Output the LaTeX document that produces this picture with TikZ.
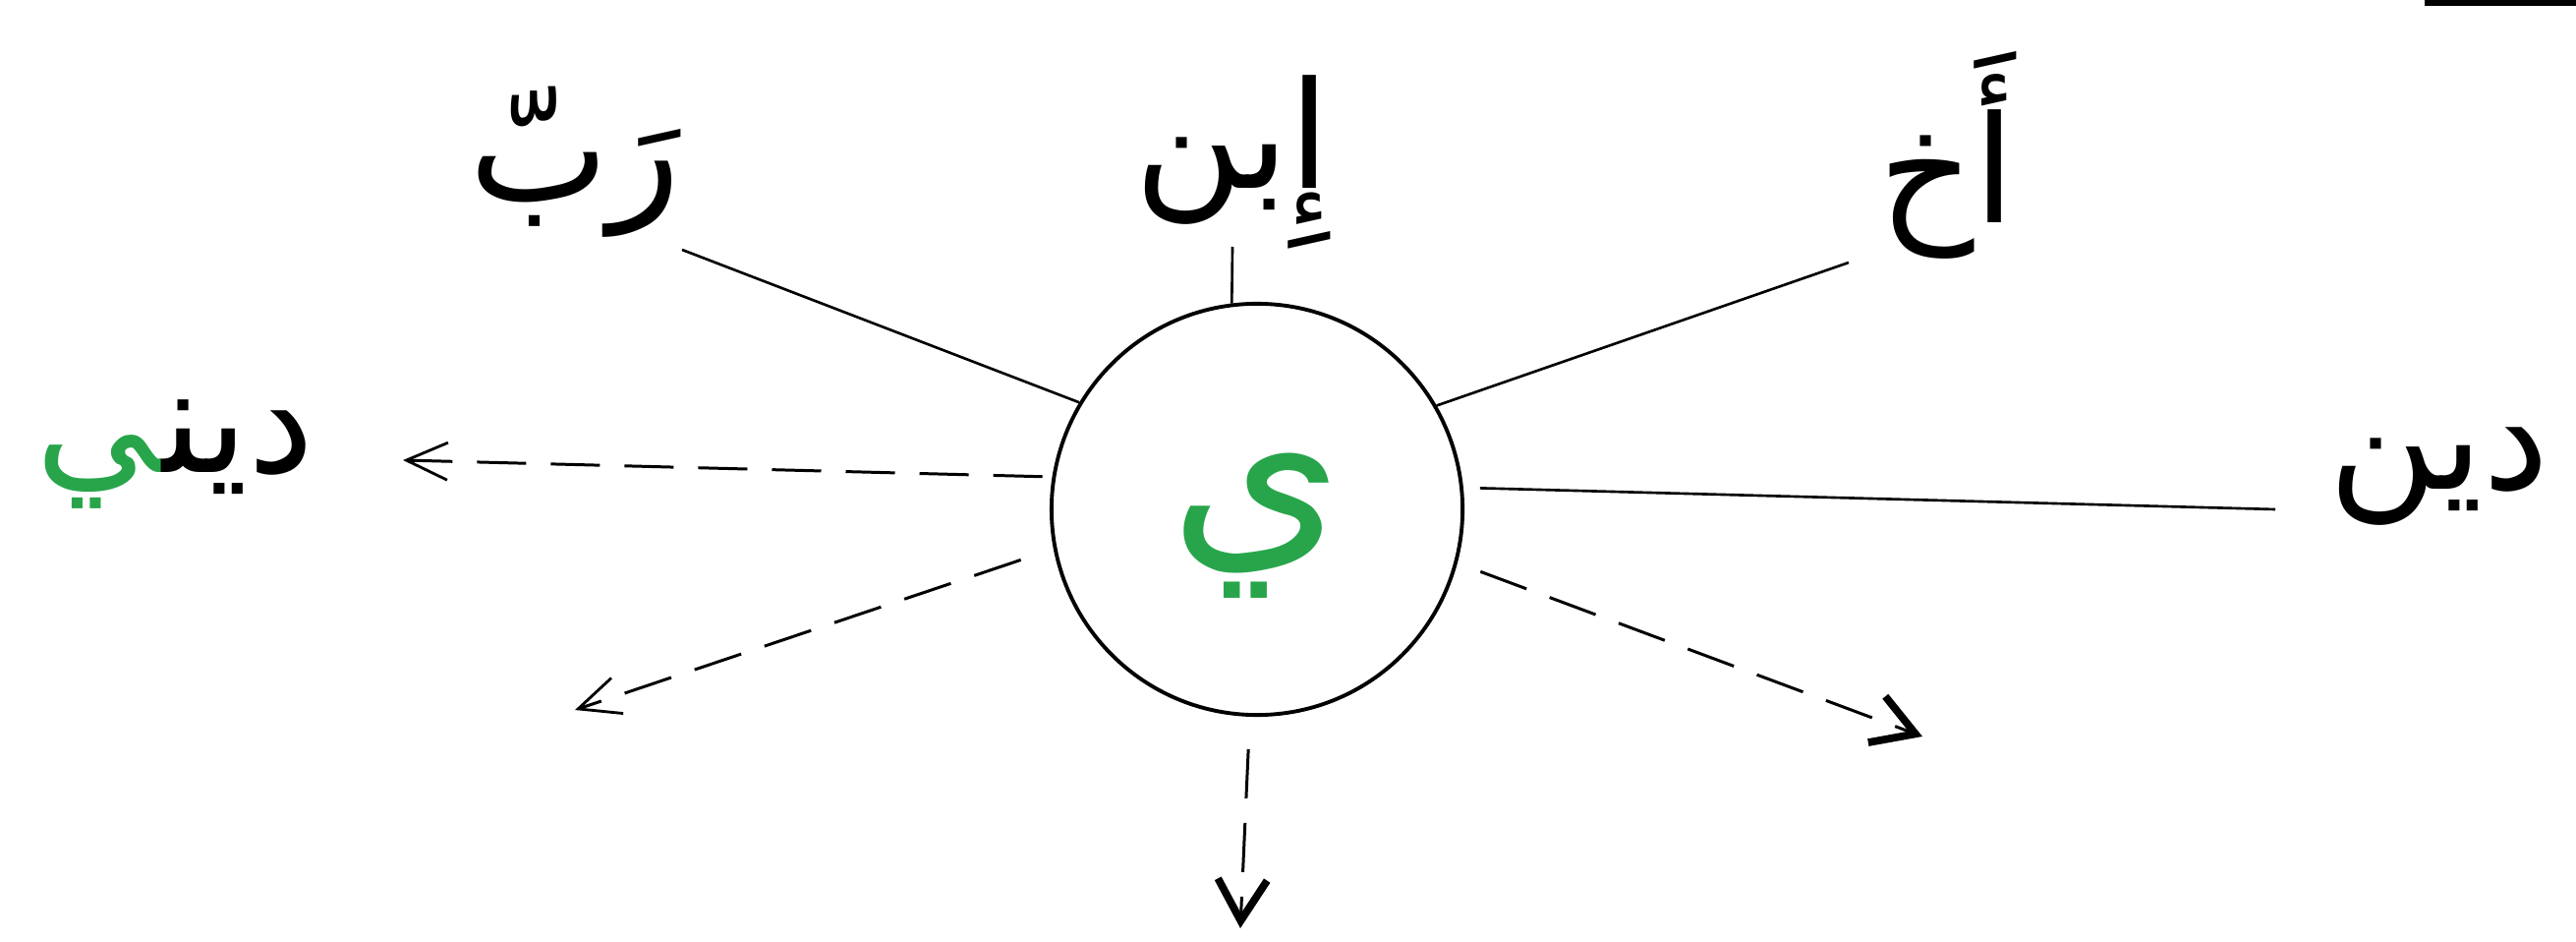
\documentclass[tikz,border=0pt]{standalone}
\usepackage{fontspec}
\newfontfamily\arabicfont[Script=Arabic]{DejaVu Sans}
\TeXXeTstate=1
\usetikzlibrary{arrows.meta}
\definecolor{grn}{RGB}{40,165,75}
\begin{document}
\begin{tikzpicture}[x=0.01cm,y=-0.01cm,
  lbl/.style={font=\arabicfont\fontsize{43}{48}\selectfont, inner sep=0pt},
  conn/.style={line width=0.75pt},
  dasharrow/.style={line width=0.85pt, dash pattern=on 0.5cm off 0.25cm},
  thintip/.style={-{Straight Barb[length=0.42cm,width=0.38cm,line width=0.8pt]}},
  boldtip/.style={-{Straight Barb[length=0.42cm,width=0.5cm,line width=2.2pt]}}]
\useasboundingbox[fill=white] (0,0) rectangle (2621,958);
\fill (2467,0) rectangle (2621,6);
% centre
\node[circle, draw, line width=1.1pt, minimum size=4.18cm, inner sep=0pt] (c) at (1279,518) {};
\node[font=\arabicfont\fontsize{64}{72}\selectfont, text=grn, inner sep=0pt] (ya) at (1279,535) {\beginR ي\endR};
% labels
\node[lbl] (rabb) at (585,165) {\beginR رَبّ\endR};
\node[lbl] (ibn) at (1254,165) {\beginR إِبن\endR};
\node[lbl] (akh) at (1981,158) {\beginR أَخ\endR};
\node[lbl] (din) at (2482,485) {\beginR دين\endR};
\node[lbl, anchor=east] (dini) at (320,455) {\beginR دين\char"200D\endR};
\node[lbl, anchor=base east, text=grn] (diniya) at (dini.base west) {\beginR\char"200D ي\endR};
% solid connectors
\coordinate (rabbE) at (694,254);
\coordinate (ibnE) at (1254,251);
\coordinate (akhE) at (1881,267);
\coordinate (dinE) at (2315,518);
\draw[conn] (rabbE) -- (c.149);
\draw[conn] (ibnE) -- (c.97);
\draw[conn] (akhE) -- (c.30);
\draw[conn, shorten <=0.17cm] (c.6) -- (dinE);
% dashed arrows
\coordinate (aL) at (410,468);
\coordinate (aLL) at (585,722);
\coordinate (aLR) at (1956,749);
\coordinate (aD) at (1262,944);
\draw[dasharrow, thintip, shorten <=0.1cm] (c.171) -- (aL);
\draw[dasharrow, thintip, shorten <=0.35cm] (c.191) -- (aLL);
\draw[dasharrow, boldtip, shorten <=0.25cm] (c.-15) -- (aLR);
\draw[dasharrow, boldtip, shorten <=0.33cm] (c.-92) -- (aD);
\end{tikzpicture}
\end{document}
